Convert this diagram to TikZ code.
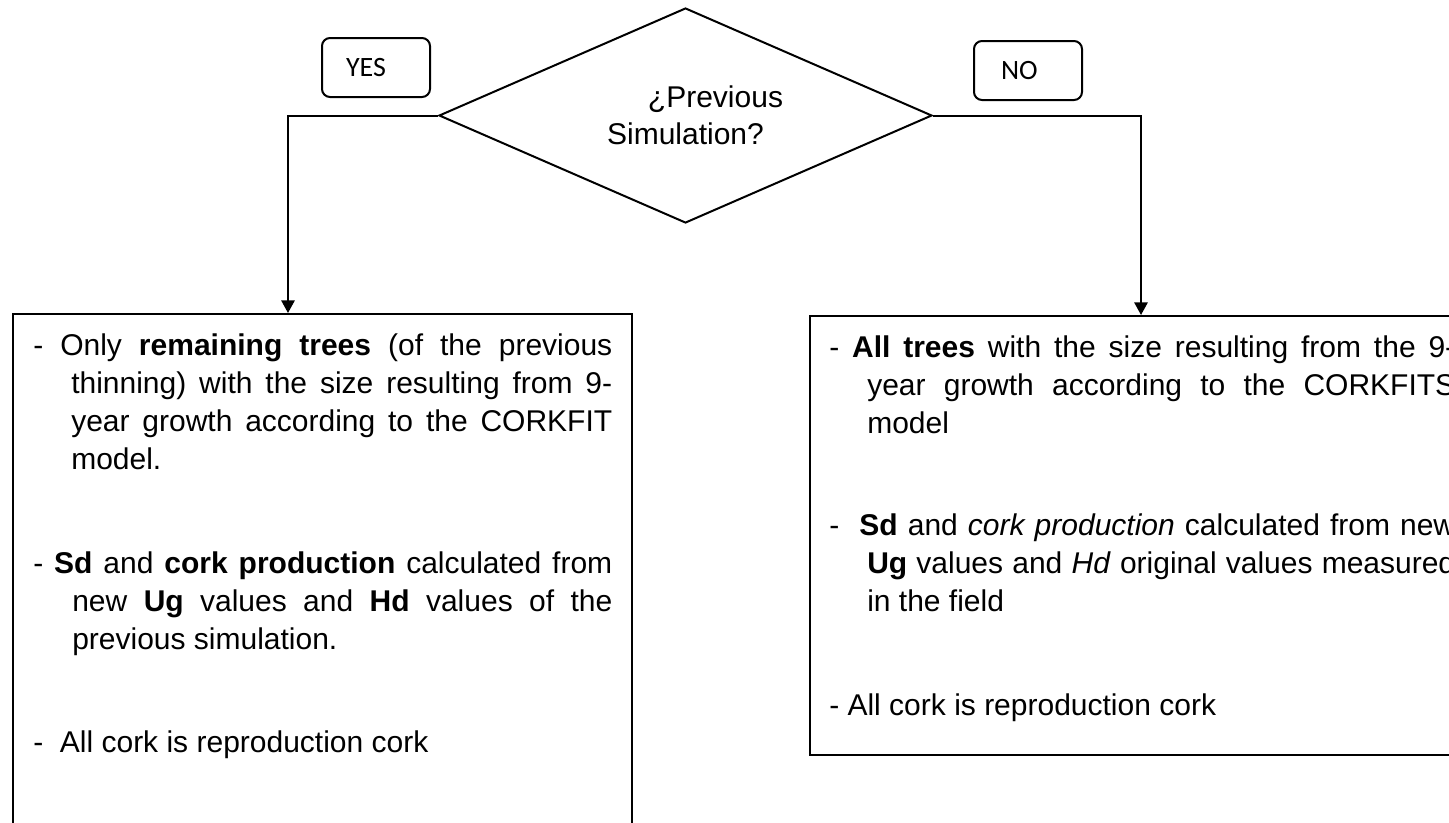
\documentclass[tikz,border=0pt]{standalone}
\usepackage{fontspec}
\setmainfont{Liberation Sans}
\newfontfamily\answerfont{Carlito}
\usetikzlibrary{shapes.geometric,arrows.meta}
\tolerance=10000
\hbadness=10000
\hyphenpenalty=10000

\begin{document}
\begin{tikzpicture}[x=0.75pt,y=-0.75pt,
    flow/.style={line width=1.5pt,-{Triangle[length=9.5pt,width=10pt]}},
    answer/.style={draw,line width=1.5pt,rounded corners=6pt,minimum width=81pt,minimum height=44.25pt,
      inner xsep=18pt,text width=45pt,align=left,font=\answerfont\fontsize{21}{25}\selectfont},
    decision/.style={diamond,draw,line width=1.5pt,shape aspect=2.3,minimum width=369.75pt,minimum height=161.25pt,
      inner sep=0pt,align=center,font=\fontsize{22.5}{28}\selectfont},
    outbox/.style={draw,line width=1.5pt,anchor=north west,inner sep=0pt},
    item/.style={anchor=base west,inner sep=0pt,align=justify,font=\fontsize{22.5}{28.5}\selectfont}]
    \useasboundingbox (0,0) rectangle (1449,822);
    \clip (0,0) rectangle (1449,822);
    \node[decision] (dec) at (685.5,115.5) {\hspace*{2em}¿Previous\\Simulation?};
    \node[answer] (yes) at (376,67.5) {YES};
    \node[answer,inner xsep=20.25pt,text width=40.5pt] (no) at (1028,70.5) {NO};
    \node[outbox,minimum width=464.25pt,minimum height=420pt] (lbox) at (12,313) {};
    \node[outbox,minimum width=496.5pt,minimum height=329.25pt] (rbox) at (809,315) {};
    \coordinate (lin) at (288,313);
    \draw[flow] (dec.west) -| (lin);
    \draw[flow] (dec.east) -| (rbox.north);
    \node[item,text width=434.25pt] (l1) at (33,355) {\hangindent=28.5pt\hangafter=1 -~Only \textbf{remaining trees} (of the previous\linebreak thinning) with the size resulting from 9-\linebreak year growth according to the CORKFIT\linebreak model.\par};
    \node[item,text width=434.25pt] (l2) at (33,573) {\hangindent=29.25pt\hangafter=1 -~\textbf{Sd} and \textbf{cork production} calculated from\linebreak new \textbf{Ug} values and \textbf{Hd} values of the\linebreak previous simulation.\par};
    \node[item,text width=434.25pt] (l3) at (33,752) {-~~All cork is reproduction cork};
    \node[item,text width=469.5pt] (r1) at (829,357) {\hangindent=28.5pt\hangafter=1 -~\textbf{All trees} with the size resulting from the 9-\linebreak year growth according to the CORKFITS\linebreak model\par};
    \node[item,text width=469.5pt] (r2) at (829,535) {\hangindent=28.5pt\hangafter=1 -~~\textbf{Sd} and \textit{cork production} calculated from new\linebreak \textbf{Ug} values and \textit{Hd} original values measured\linebreak in the field\par};
    \node[item,text width=469.5pt] (r3) at (829,715) {-~All cork is reproduction cork};
\end{tikzpicture}
\end{document}
